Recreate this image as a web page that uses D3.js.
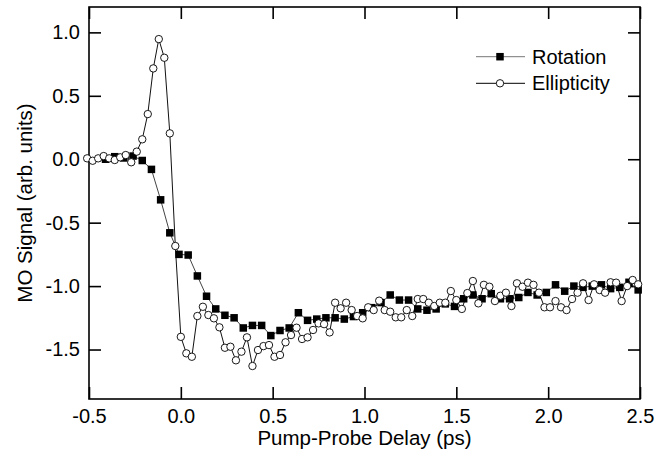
<!DOCTYPE html>
<html>
<head>
<meta charset="utf-8">
<script src="https://cdn.jsdelivr.net/npm/d3@7"></script>
<style>
  html, body { margin: 0; padding: 0; background: #fff; }
  svg { display: block; font-family: "Liberation Sans", Arial, Helvetica, sans-serif; }
</style>
</head>
<body>
<svg id="chart" width="665" height="463"></svg>
<script>
// ---- data ----
const xTicks = [-0.5, 0.0, 0.5, 1.0, 1.5, 2.0, 2.5];
const yTicks = [-1.5, -1.0, -0.5, 0.0, 0.5, 1.0];
const xTitle = "Pump-Probe Delay (ps)";
const yTitle = "MO Signal (arb. units)";
const seriesNames = ["Rotation", "Ellipticity"];

const rotationTime = [-0.41,-0.36,-0.31,-0.26,-0.21,-0.16,-0.11,-0.06,-0.01,0.04,0.09,0.14,0.19,0.24,0.29,0.34,0.39,0.44,0.49,0.54,0.59,0.64,0.69,0.74,0.79,0.84,0.89,0.94,0.99,1.04,1.09,1.14,1.19,1.24,1.29,1.34,1.39,1.44,1.49,1.54,1.59,1.64,1.69,1.74,1.79,1.84,1.89,1.94,1.99,2.04,2.09,2.14,2.19,2.24,2.29,2.34,2.39,2.44,2.49];
const rotationValue = [0.00,0.02,0.01,0.025,-0.01,-0.08,-0.32,-0.58,-0.75,-0.755,-0.92,-1.08,-1.18,-1.23,-1.25,-1.33,-1.31,-1.31,-1.39,-1.35,-1.33,-1.21,-1.27,-1.26,-1.25,-1.25,-1.26,-1.24,-1.21,-1.17,-1.13,-1.07,-1.11,-1.11,-1.18,-1.19,-1.18,-1.14,-1.16,-1.10,-1.07,-1.10,-1.06,-1.10,-1.10,-1.09,-1.05,-1.07,-1.05,-0.99,-1.04,-1.00,-1.01,-1.00,-0.99,-1.02,-1.01,-0.97,-1.03];

const ellipticityTime = [-0.51,-0.48,-0.45,-0.42,-0.39,-0.36,-0.33,-0.30,-0.27,-0.24,-0.21,-0.18,-0.15,-0.12,-0.09,-0.06,-0.03,0.00,0.03,0.06,0.09,0.12,0.15,0.18,0.21,0.24,0.27,0.30,0.33,0.36,0.39,0.42,0.45,0.48,0.51,0.54,0.57,0.60,0.63,0.66,0.69,0.72,0.75,0.78,0.81,0.84,0.87,0.90,0.93,0.96,0.99,1.02,1.05,1.08,1.11,1.14,1.17,1.20,1.23,1.26,1.29,1.32,1.35,1.38,1.41,1.44,1.47,1.50,1.53,1.56,1.59,1.62,1.65,1.68,1.71,1.74,1.77,1.80,1.83,1.86,1.89,1.92,1.95,1.98,2.01,2.04,2.07,2.10,2.13,2.16,2.19,2.22,2.25,2.28,2.31,2.34,2.37,2.40,2.43,2.46,2.49];
const ellipticityValue = [0.007,-0.012,0.007,0.025,0.007,-0.006,0.015,0.033,-0.024,0.06,0.157,0.356,0.716,0.947,0.80,0.204,-0.684,-1.40,-1.53,-1.557,-1.236,-1.163,-1.228,-1.254,-1.325,-1.486,-1.478,-1.585,-1.517,-1.404,-1.63,-1.504,-1.473,-1.465,-1.557,-1.543,-1.443,-1.386,-1.328,-1.417,-1.404,-1.346,-1.294,-1.30,-1.365,-1.131,-1.175,-1.131,-1.189,-1.236,-1.254,-1.167,-1.189,-1.115,-1.189,-1.202,-1.246,-1.246,-1.189,-1.236,-1.102,-1.102,-1.131,-1.157,-1.131,-1.131,-1.039,-1.11,-1.18,-1.055,-0.96,-1.136,-0.99,-1.005,-1.118,-1.076,-1.052,-1.157,-0.978,-1.005,-0.973,-0.99,-1.052,-1.167,-1.167,-1.118,-1.167,-1.189,-1.102,-1.052,-0.978,-1.11,-0.986,-1.031,-1.052,-0.97,-0.973,-1.118,-1.0,-0.952,-0.986];

// ---- layout ----
const L = 89, R = 640, T = 7, B = 399;
const svg = d3.select("#chart");
const x = d3.scaleLinear().domain([-0.5, 2.5]).range([L, R]);
const y = d3.scaleLinear().domain([-1.89, 1.2]).range([B, T]);
const fmt = d => d.toFixed(1).replace("-0.0", "0.0");
const FS = 20;
const TFS = 20.5;

// axes (inward ticks on all four sides)
const tickLen = 12;
const gB = svg.append("g").attr("transform", `translate(0,${B})`)
  .call(d3.axisBottom(x).tickValues(xTicks).tickSizeInner(-tickLen).tickSizeOuter(0).tickPadding(10).tickFormat(fmt));
const gT = svg.append("g").attr("transform", `translate(0,${T})`)
  .call(d3.axisTop(x).tickValues(xTicks).tickSizeInner(-tickLen).tickSizeOuter(0).tickFormat(""));
const gL = svg.append("g").attr("transform", `translate(${L},0)`)
  .call(d3.axisLeft(y).tickValues(yTicks).tickSizeInner(-tickLen).tickSizeOuter(0).tickPadding(9).tickFormat(fmt));
const gR = svg.append("g").attr("transform", `translate(${R},0)`)
  .call(d3.axisRight(y).tickValues(yTicks).tickSizeInner(-tickLen).tickSizeOuter(0).tickFormat(""));
[gB, gT, gL, gR].forEach(g => {
  g.select(".domain").remove();
  g.selectAll(".tick line").attr("stroke", "#000").attr("stroke-width", 1.6);
  g.selectAll(".tick text").attr("fill", "#000").attr("font-size", FS).attr("font-family", null);
});
gB.selectAll(".tick text").attr("dy", "0.72em");

// frame
svg.append("rect").attr("x", L).attr("y", T).attr("width", R - L).attr("height", B - T)
  .attr("fill", "none").attr("stroke", "#000").attr("stroke-width", 1.6);

// titles
svg.append("text").attr("x", (L + R) / 2).attr("y", 445).attr("text-anchor", "middle")
  .attr("font-size", TFS).text(xTitle);
svg.append("text").attr("transform", `translate(32,${(T + B) / 2}) rotate(-90)`)
  .attr("text-anchor", "middle").attr("font-size", TFS).text(yTitle);

// series
const rot = rotationTime.map((t, i) => [t, rotationValue[i]]);
const ell = ellipticityTime.map((t, i) => [t, ellipticityValue[i]]);
const line = d3.line().x(d => x(d[0])).y(d => y(d[1]));

svg.append("path").datum(rot).attr("d", line).attr("fill", "none").attr("stroke", "#444").attr("stroke-width", 1);
svg.append("path").datum(ell).attr("d", line).attr("fill", "none").attr("stroke", "#111").attr("stroke-width", 1);

const sq = 7.5;
svg.append("g").selectAll("rect").data(rot).join("rect")
  .attr("x", d => x(d[0]) - sq / 2).attr("y", d => y(d[1]) - sq / 2)
  .attr("width", sq).attr("height", sq).attr("fill", "#000");
svg.append("g").selectAll("circle").data(ell).join("circle")
  .attr("cx", d => x(d[0])).attr("cy", d => y(d[1])).attr("r", 3.7)
  .attr("fill", "#fff").attr("stroke", "#000").attr("stroke-width", 0.9);

// legend
const lgX1 = 476, lgX2 = 525, lgXm = 500, lgTx = 532;
const lg = [56.7, 83.3];
svg.append("line").attr("x1", lgX1).attr("x2", lgX2).attr("y1", lg[0]).attr("y2", lg[0]).attr("stroke", "#777").attr("stroke-width", 1);
svg.append("rect").attr("x", lgXm - sq / 2).attr("y", lg[0] - sq / 2).attr("width", sq).attr("height", sq).attr("fill", "#000");
svg.append("line").attr("x1", lgX1).attr("x2", lgX2).attr("y1", lg[1]).attr("y2", lg[1]).attr("stroke", "#000").attr("stroke-width", 1);
svg.append("circle").attr("cx", lgXm).attr("cy", lg[1]).attr("r", 3.7).attr("fill", "#fff").attr("stroke", "#000").attr("stroke-width", 0.9);
seriesNames.forEach((n, i) => {
  svg.append("text").attr("x", lgTx).attr("y", lg[i]).attr("dy", "0.35em").attr("font-size", 20).text(n);
});
</script>
</body>
</html>
